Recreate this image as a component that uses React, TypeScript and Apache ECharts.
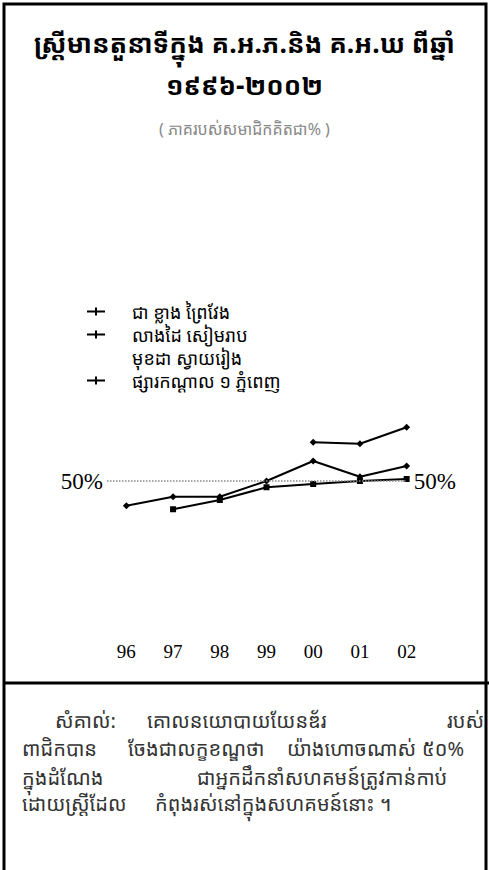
import React, { useEffect, useRef } from "react";
import * as echarts from "echarts";

const years = ["96", "97", "98", "99", "00", "01", "02"];
const seriesNames = [
  "ជា ខ្លាង ព្រៃវែង",
  "លាងដៃ សៀមរាប",
  "មុខដា ស្វាយរៀង",
  "ផ្សារកណ្ដាល ១ ភ្នំពេញ",
];
const valuesA: (number | null)[] = [null, null, null, null, 65.5, 64.9, 71.5];
const valuesB: (number | null)[] = [40.1, 43.7, 43.7, 50.0, 58.0, 51.7, 56.0];
const valuesC: (number | null)[] = [null, 38.7, 42.4, 47.5, 48.8, 50.0, 50.8];
const referenceValue = 50;
const titleLine1 = "ស្ត្រីមានតួនាទីក្នុង គ.អ.ភ.និង គ.អ.ឃ ពីឆ្នាំ";
const titleLine2 = "១៩៩៦-២០០២";
const subtitle = "( ភាគរបស់សមាជិកគិតជា% )";
const noteLines = [
  ["សំគាល់:", "គោលនយោបាយយែនឌ័រ", "របស់"],
  ["ពាជិកបាន", "ចែងជាលក្ខខណ្ឌថា", "យ៉ាងហោចណាស់", "៥០%"],
  ["ក្នុងដំណែង", "ជាអ្នកដឹកនាំសហគមន៍ត្រូវកាន់កាប់"],
  ["ដោយស្ត្រីដែល", "កំពុងរស់នៅក្នុងសហគមន៍នោះ ។"],
];

const KH = "'Noto Sans Khmer','Khmer OS','Khmer OS System','Noto Serif Khmer','Hanuman',sans-serif";
const SERIF = "'Liberation Serif','DejaVu Serif',serif";

export default function App() {
  const ref = useRef<HTMLDivElement>(null);
  useEffect(() => {
    document.body.style.margin = "0";
    if (!ref.current) return;
    const chart = echarts.init(ref.current, null, { renderer: "svg" });
    const lineIcon = "path://M0,4 L18,4 L18,6 L0,6 Z M8,1 L10,1 L10,9 L8,9 Z";
    const noteX = [
      [55, 147, 484],
      [22, 128, 287, 422],
      [22, 197],
      [22, 155],
    ];
    const noteAlign = [
      ["left", "left", "right"],
      ["left", "left", "left", "left"],
      ["left", "left"],
      ["left", "left"],
    ];
    const noteY = [720, 748, 777, 803];
    const noteGraphics: any[] = [];
    noteLines.forEach((line, i) => {
      line.forEach((t, j) => {
        noteGraphics.push({
          type: "text",
          x: noteX[i][j],
          y: noteY[i],
          style: {
            text: t,
            font: `20px ${KH}`,
            fill: "#333",
            textAlign: noteAlign[i][j],
            textVerticalAlign: "middle",
          },
        });
      });
    });
    chart.setOption({
      animation: false,
      backgroundColor: "#fff",
      title: [
        {
          text: titleLine1 + "\n" + titleLine2,
          left: "center",
          top: 17,
          textStyle: {
            fontFamily: KH,
            fontSize: 26,
            fontWeight: "bold",
            color: "#000",
            lineHeight: 42,
          },
        },
        {
          text: subtitle,
          left: "center",
          top: 116,
          textStyle: {
            fontFamily: KH,
            fontSize: 16,
            fontWeight: "normal",
            color: "#888",
          },
        },
      ],
      legend: {
        orient: "vertical",
        left: 82,
        top: 295,
        itemWidth: 18,
        itemHeight: 10,
        itemGap: 0,
        selectedMode: false,
        data: [
          { name: seriesNames[0], icon: lineIcon },
          { name: seriesNames[1], icon: lineIcon },
          { name: seriesNames[2], icon: "none" },
          { name: seriesNames[3], icon: lineIcon },
        ],
        textStyle: {
          fontFamily: KH,
          fontSize: 18,
          color: "#000",
          lineHeight: 23,
          padding: [0, 0, 0, 22],
        },
      },
      grid: { left: 103, width: 327, top: 356, height: 250 },
      xAxis: {
        type: "category",
        data: years,
        boundaryGap: true,
        axisLine: { show: false },
        axisTick: { show: false },
        axisLabel: {
          margin: 36,
          fontFamily: SERIF,
          fontSize: 19,
          color: "#000",
        },
      },
      yAxis: {
        type: "value",
        min: 0,
        max: 100,
        show: false,
      },
      series: [
        {
          name: seriesNames[0],
          type: "line",
          data: valuesA,
          color: "#000",
          symbol: "diamond",
          symbolSize: 7,
          lineStyle: { color: "#000", width: 2 },
          itemStyle: { color: "#000" },
          markLine: {
            silent: true,
            symbol: "none",
            lineStyle: { color: "#888", type: "dotted", width: 1.5 },
            label: {
              fontFamily: SERIF,
              fontSize: 23,
              color: "#000",
              formatter: "50%",
            },
            data: [
              [
                { x: 107, yAxis: referenceValue, label: { position: "start", distance: 4 } },
                { xAxis: "02", yAxis: referenceValue },
              ],
              [
                { x: 107, yAxis: referenceValue, label: { position: "end", distance: 7 }, lineStyle: { color: "transparent" } },
                { xAxis: "02", yAxis: referenceValue },
              ],
            ],
          },
        },
        {
          name: seriesNames[1],
          type: "line",
          data: valuesB,
          color: "#000",
          symbol: "diamond",
          symbolSize: 7,
          lineStyle: { color: "#000", width: 2 },
          itemStyle: { color: "#000" },
        },
        {
          name: seriesNames[2],
          type: "line",
          data: [],
          color: "#000",
        },
        {
          name: seriesNames[3],
          type: "line",
          data: valuesC,
          color: "#000",
          symbol: "rect",
          symbolSize: 6,
          lineStyle: { color: "#000", width: 2 },
          itemStyle: { color: "#000" },
        },
      ],
      graphic: [
        {
          type: "rect",
          shape: { x: 4, y: 4, width: 482, height: 880 },
          style: { fill: "none", stroke: "#000", lineWidth: 3 },
          silent: true,
        },
        {
          type: "line",
          shape: { x1: 4, y1: 683, x2: 489, y2: 683 },
          style: { stroke: "#000", lineWidth: 3 },
          silent: true,
        },
        ...noteGraphics,
      ],
    });
    return () => chart.dispose();
  }, []);
  return <div ref={ref} style={{ width: 489, height: 870 }} />;
}
